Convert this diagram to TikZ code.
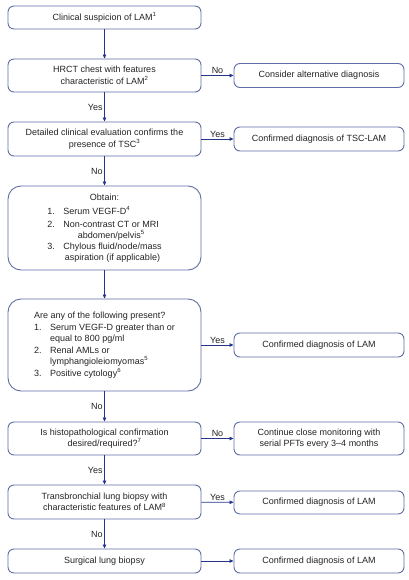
\documentclass[tikz,border=0pt]{standalone}
\usepackage{fontspec}
\setmainfont{Liberation Sans}
\usetikzlibrary{arrows.meta}
\definecolor{boxc}{RGB}{96,108,165}
\definecolor{arrc}{RGB}{38,52,138}
\definecolor{txtc}{RGB}{35,35,35}
\tikzset{
  lbox/.style={draw=boxc, line width=0.9pt, rounded corners=6pt, minimum width=193pt, inner sep=0pt, align=center, text=txtc, font=\fontsize{9}{11.5}\selectfont},
  rbox/.style={draw=boxc, line width=0.9pt, rounded corners=6pt, minimum width=170pt, minimum height=24pt, inner sep=0pt, align=center, text=txtc, font=\fontsize{9}{11.5}\selectfont},
  conn/.style={draw=arrc, line width=0.8pt, -{Triangle[length=4pt,width=3.5pt]}},
  lab/.style={text=txtc, font=\fontsize{9}{11}\selectfont, inner sep=1.5pt}
}
\begin{document}
\begin{tikzpicture}[x=1pt,y=-1pt]
\useasboundingbox (0,0) rectangle (408,580);
% left column
\node[lbox, minimum height=23pt] (b1) at (104.5,17.5) {Clinical suspicion of LAM\textsuperscript{1}};
\node[lbox, minimum height=33pt] (b2) at (104.5,75.5) {HRCT chest with features\\characteristic of LAM\textsuperscript{2}};
\node[lbox, minimum height=34pt] (b3) at (104.5,139) {Detailed clinical evaluation confirms the\\presence of TSC\textsuperscript{3}};
\node[lbox, minimum height=84pt, rounded corners=13pt] (b4) at (104.5,228) {%
\fontsize{9}{10.8}\selectfont
\begin{tabular}{@{}l@{\hspace{8.5pt}}l@{}}
\multicolumn{2}{c}{Obtain:}\\[3pt]
1. & Serum VEGF-D\textsuperscript{4}\\[2pt]
2. & \begin{tabular}[t]{@{}c@{}}Non-contrast CT or MRI\\ abdomen/pelvis\textsuperscript{5}\end{tabular}\\[2pt]
3. & \begin{tabular}[t]{@{}c@{}}Chylous fluid/node/mass\\ aspiration (if applicable)\end{tabular}
\end{tabular}};
\node[lbox, minimum height=92pt, rounded corners=13pt] (b5) at (104.5,345) {%
\fontsize{9}{11.5}\selectfont
\begin{tabular}{@{}l@{\hspace{8.5pt}}l@{}}
\multicolumn{2}{@{}l}{Are any of the following present?}\\
1. & \begin{tabular}[t]{@{}l@{}}Serum VEGF-D greater than or\\ equal to 800 pg/ml\end{tabular}\\
2. & \begin{tabular}[t]{@{}l@{}}Renal AMLs or\\ lymphangioleiomyomas\textsuperscript{5}\end{tabular}\\
3. & Positive cytology\textsuperscript{6}
\end{tabular}};
\node[lbox, minimum height=33pt] (b6) at (104.5,438.5) {Is histopathological confirmation\\desired/required?\textsuperscript{7}};
\node[lbox, minimum height=34pt] (b7) at (104.5,502) {Transbronchial lung biopsy with\\characteristic features of LAM\textsuperscript{8}};
\node[lbox, minimum height=24pt] (b8) at (104.5,561) {Surgical lung biopsy};
% right column
\node[rbox] (r2) at (319,75.5) {Consider alternative diagnosis};
\node[rbox] (r3) at (319,139) {Confirmed diagnosis of TSC-LAM};
\node[rbox] (r5) at (319,345) {Confirmed diagnosis of LAM};
\node[rbox, minimum height=33pt] (r6) at (319,438.5) {Continue close monitoring with\\serial PFTs every 3--4 months};
\node[rbox, minimum height=23pt] (r7) at (319,502.5) {Confirmed diagnosis of LAM};
\node[rbox] (r8) at (319,561) {Confirmed diagnosis of LAM};
% vertical connectors
\draw[conn] (b1) -- (b2);
\draw[conn] (b2) -- node[lab, left] {Yes} (b3);
\draw[conn] (b3) -- node[lab, left] {No} (b4);
\draw[conn] (b4) -- (b5);
\draw[conn] (b5) -- node[lab, left] {No} (b6);
\draw[conn] (b6) -- node[lab, left] {Yes} (b7);
\draw[conn] (b7) -- node[lab, left] {No} (b8);
% horizontal connectors
\draw[conn] (b2) -- node[lab, above] {No} (r2);
\draw[conn] (b3) -- node[lab, above] {Yes} (r3);
\draw[conn] (b5) -- node[lab, above] {Yes} (r5);
\draw[conn] (b6) -- node[lab, above] {No} (r6);
\draw[conn] (b7) -- node[lab, above] {Yes} (r7);
\draw[conn] (b8) -- (r8);
\end{tikzpicture}
\end{document}
